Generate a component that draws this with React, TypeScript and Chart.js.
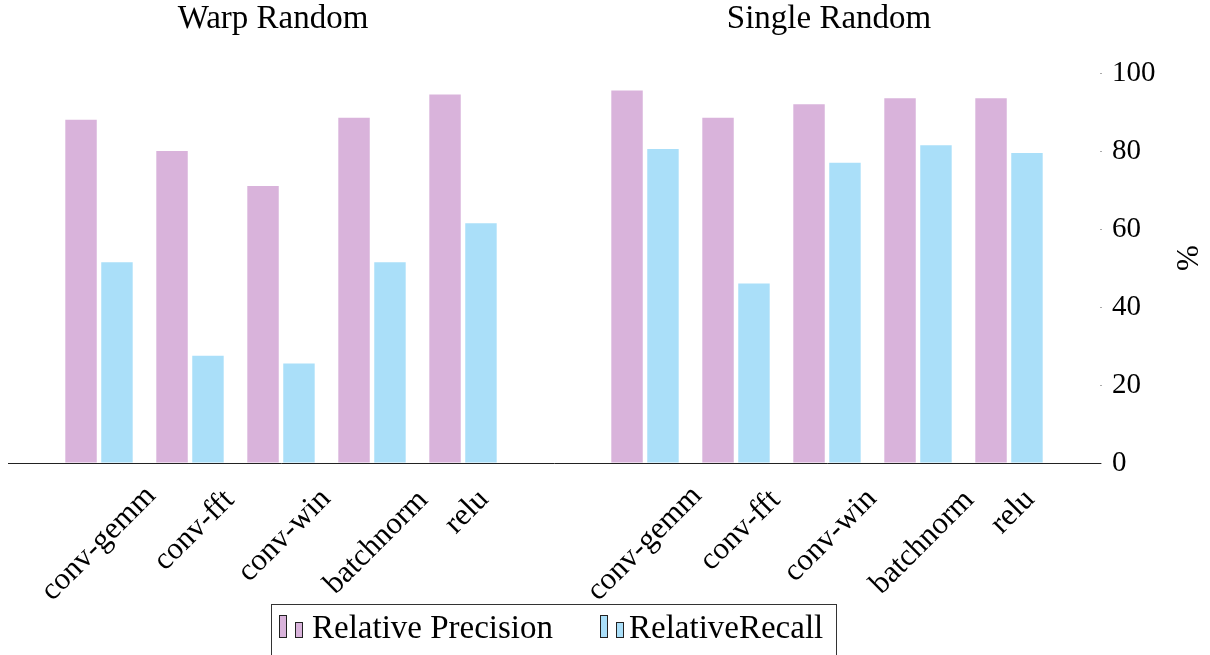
import React, { useEffect, useRef } from 'react';
import { Chart, registerables } from 'chart.js';

Chart.register(...registerables);

// ---- data ----
const groups = ['Warp Random', 'Single Random'];
const categories = ['conv-gemm', 'conv-fft', 'conv-win', 'batchnorm', 'relu'];
const warpPrecision = [88, 80, 71, 88.5, 94.5];
const warpRecall = [51.5, 27.5, 25.5, 51.5, 61.5];
const singlePrecision = [95.5, 88.5, 92, 93.5, 93.5];
const singleRecall = [80.5, 46, 77, 81.5, 79.5];
const yTicks = [0, 20, 40, 60, 80, 100];
const seriesNames = ['Relative Precision', 'RelativeRecall'];
const yTitle = '%';

// ---- derived (slots: blank, group A, blank, group B, blank) ----
const slotLabels = ['', ...categories, '', ...categories, ''];
const precisionSlots = [null, ...warpPrecision, null, ...singlePrecision, null];
const recallSlots = [null, ...warpRecall, null, ...singleRecall, null];

const PINK = '#D9B3DB';
const BLUE = '#AADFF9';
const SERIF = "'Liberation Serif', 'Times New Roman', serif";

const overlay = {
  id: 'overlay',
  afterDraw(chart: any) {
    const ctx = chart.ctx as CanvasRenderingContext2D;
    const xs = chart.scales.x;
    const ca = chart.chartArea;
    ctx.save();
    ctx.fillStyle = '#000';

    // rotated category labels
    ctx.font = `31px ${SERIF}`;
    slotLabels.forEach((lab, i) => {
      if (!lab) return;
      const px = xs.getPixelForValue(i);
      const m = ctx.measureText(lab);
      const asc = m.actualBoundingBoxAscent;
      const desc = m.actualBoundingBoxDescent;
      const extent = (m.width + asc + desc) * Math.SQRT1_2;
      const cx = px + 2;
      const cy = ca.bottom + 22 + extent / 2;
      ctx.save();
      ctx.translate(cx, cy);
      ctx.rotate(-Math.PI / 4);
      ctx.textAlign = 'center';
      ctx.textBaseline = 'alphabetic';
      ctx.fillText(lab, 0, (asc - desc) / 2);
      ctx.restore();
    });

    // group titles
    ctx.font = `33px ${SERIF}`;
    ctx.textAlign = 'center';
    ctx.textBaseline = 'alphabetic';
    const n = categories.length;
    const offs = [-8, 2];
    groups.forEach((g, gi) => {
      const first = 1 + gi * (n + 1);
      const last = first + n - 1;
      const cx = (xs.getPixelForValue(first) + xs.getPixelForValue(last)) / 2 + offs[gi];
      ctx.fillText(g, cx, 28);
    });

    // y title (rotated CCW)
    ctx.save();
    ctx.font = `31px ${SERIF}`;
    ctx.translate(1190, (ca.top + ca.bottom) / 2 - 10);
    ctx.rotate(-Math.PI / 2);
    ctx.textAlign = 'center';
    ctx.textBaseline = 'middle';
    ctx.fillText(yTitle, 0, 0);
    ctx.restore();

    // legend
    ctx.strokeStyle = '#333';
    ctx.lineWidth = 1;
    ctx.strokeRect(271.5, 604.5, 565, 70);
    const ds = chart.data.datasets;
    const entries = [
      { x: 279, tx: 312 },
      { x: 600, tx: 629 },
    ];
    ctx.font = `33px ${SERIF}`;
    ctx.textAlign = 'left';
    entries.forEach((e, i) => {
      ctx.fillStyle = ds[i].backgroundColor;
      ctx.strokeStyle = '#222';
      ctx.fillRect(e.x, 615, 8, 23);
      ctx.strokeRect(e.x + 0.5, 615.5, 7, 22);
      ctx.fillRect(e.x + 16, 622, 8, 16);
      ctx.strokeRect(e.x + 16.5, 622.5, 7, 15);
      ctx.fillStyle = '#000';
      ctx.fillText(ds[i].label, e.tx, 638);
    });

    ctx.restore();
  },
};

export default function App() {
  const ref = useRef<HTMLCanvasElement>(null);
  useEffect(() => {
    const chart = new Chart(ref.current!, {
      type: 'bar',
      data: {
        labels: slotLabels,
        datasets: [
          {
            label: seriesNames[0],
            data: precisionSlots,
            backgroundColor: PINK,
            borderWidth: 0,
            categoryPercentage: 0.79,
            barPercentage: 0.875,
          },
          {
            label: seriesNames[1],
            data: recallSlots,
            backgroundColor: BLUE,
            borderWidth: 0,
            categoryPercentage: 0.79,
            barPercentage: 0.875,
          },
        ],
      },
      options: {
        responsive: false,
        animation: false,
        devicePixelRatio: 1,
        layout: { padding: { left: 8, top: 73, right: 0, bottom: 192 } },
        plugins: {
          legend: { display: false },
          tooltip: { enabled: false },
          title: { display: false },
        },
        scales: {
          x: {
            type: 'category',
            offset: false,
            grid: { display: true, drawOnChartArea: false, drawTicks: false },
            border: { display: true, color: '#222', width: 1 },
            ticks: { display: false },
            afterFit: (s: any) => {
              s.height = 0;
            },
          },
          y: {
            position: 'right',
            min: 0,
            max: 100,
            afterBuildTicks: (s: any) => {
              s.ticks = yTicks.map((v) => ({ value: v }));
            },
            grid: { display: true, drawOnChartArea: false, drawTicks: true, tickLength: 2, color: '#aaa' },
            border: { display: false },
            ticks: {
              padding: 10,
              color: '#000',
              font: { family: SERIF, size: 29 },
            },
            afterFit: (s: any) => {
              s.width = 110;
            },
          },
        },
      },
      plugins: [overlay],
    } as any);
    return () => chart.destroy();
  }, []);
  return (
    <div style={{ position: 'absolute', left: 0, top: 0, width: 1210, height: 655, background: '#fff' }}>
      <canvas ref={ref} width={1210} height={655} style={{ display: 'block', width: 1210, height: 655 }} />
    </div>
  );
}
